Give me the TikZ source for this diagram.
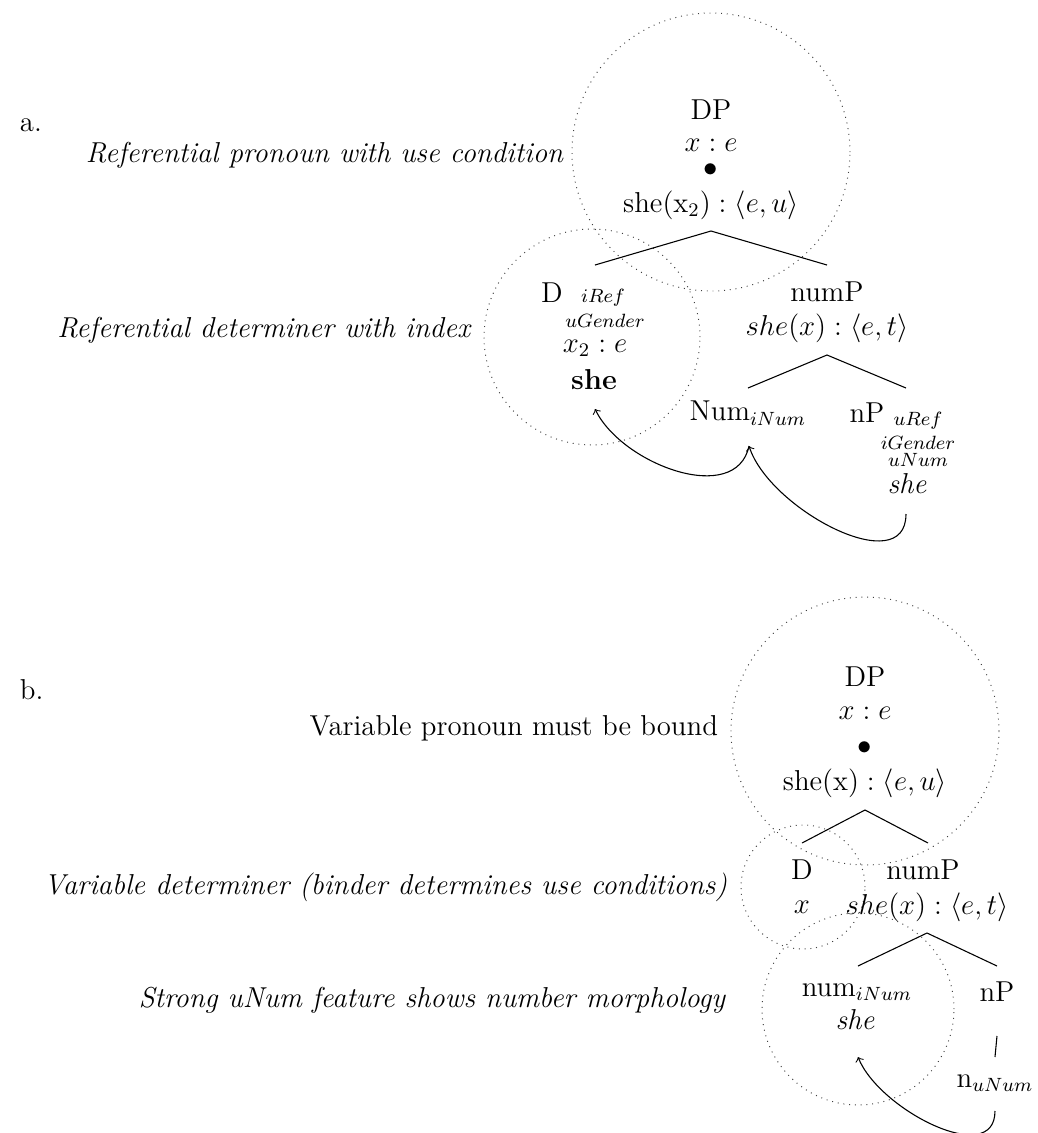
\documentclass[tikz,border=0pt]{standalone}
\usepackage{amsmath}
\usetikzlibrary{calc}
\begin{document}
\begin{tikzpicture}[x=0.41667pt,y=-0.41667pt,
  every node/.style={inner sep=0pt, outer sep=0pt, font=\large},
  lab/.style={anchor=east, font=\large\itshape},
  num/.style={anchor=west},
  zone/.style={draw=black!75, dotted, circle, line width=0.4pt, minimum size=#1*0.41667pt},
  branch/.style={line width=0.45pt},
  link/.style={->, line width=0.45pt}]
\useasboundingbox (0,0) rectangle (1038,1133);

% ---------- (a) referential pronoun ----------
\node[num] (ia) at (20,125) {a.};

\node[zone=278] (zDPa) at (711,152) {};
\node[zone=216] (zDa)  at (592,337) {};

\node[lab] (la1) at (563,155) {Referential pronoun with use condition};
\node[lab] (la2) at (470,330) {Referential determiner with index};

\node (DPa)   at (711,110) {DP};
\node (DPa2)  at (711,145) {$x:e$};
\node (DPa3)  at (711,170) {$\bullet$};
\node (DPa4)  at (711,205) {$\mathrm{she}(\mathrm{x}_2):\langle e,u\rangle$};

\node (Da)    at (552,293) {D};
\node (Da1)   at (603,298) {$\scriptstyle iRef$};
\node (Da2)   at (605,321) {$\scriptstyle uGender$};
\node (Da3)   at (595,348) {$x_2:e$};
\node (Da4)   at (594,380) {\textbf{she}};

\node (NPa)   at (827,292) {numP};
\node (NPa2)  at (827,328) {$she(x):\langle e,t\rangle$};

\node (Numa)  at (748,413) {Num$_{iNum}$};
\node (nPa)   at (867,413) {nP};
\node (nPa1)  at (918,421) {$\scriptstyle uRef$};
\node (nPa2)  at (918,443) {$\scriptstyle iGender$};
\node (nPa3)  at (918,460) {$\scriptstyle uNum$};
\node (nPa4)  at (907,484) {\itshape she};

\coordinate (apA) at (711,231);
\coordinate (lfA) at (595,265);
\coordinate (rtA) at (827,265);
\draw[branch] (lfA) -- (apA) -- (rtA);

\coordinate (apB) at (827,355);
\coordinate (lfB) at (748,388);
\coordinate (rtB) at (906,388);
\draw[branch] (lfB) -- (apB) -- (rtB);

\coordinate (tNa) at (749,446);
\coordinate (tDa) at (595,409);
\coordinate (tsa) at (906,514);
\draw[link] (tNa) to[out=-102,in=-64] (tDa);
\draw[link] (tsa) to[out=-90,in=-72] (tNa);

% ---------- (b) bound variable pronoun ----------
\node[num] (ib) at (20,690) {b.};

\node[zone=268] (zDPb) at (865,731) {};
\node[zone=124] (zDb)  at (803,887) {};
\node[zone=192] (zNb)  at (858,1009) {};

\node[lab, font=\large] (lb1) at (718,728) {Variable pronoun must be bound};
\node[lab] (lb2) at (727,887) {Variable determiner (binder determines use conditions)};
\node[lab] (lb3) at (725,1000) {Strong uNum feature shows number morphology};

\node (DPb)   at (865,677) {DP};
\node (DPb2)  at (865,713) {$x:e$};
\node (DPb3)  at (865,748) {$\bullet$};
\node (DPb4)  at (865,783) {$\mathrm{she}(\mathrm{x}):\langle e,u\rangle$};

\node (Db)    at (802,870) {D};
\node (Db2)   at (802,907) {$x$};
\node (NPb)   at (923,870) {numP};
\node (NPb2)  at (927,907) {$she(x):\langle e,t\rangle$};

\node (Numb)  at (857,992) {num$_{iNum}$};
\node (Numb2) at (855,1020) {\itshape she};
\node (nPb)   at (997,992) {nP};
\node (nb)    at (995,1083) {n$_{uNum}$};

\coordinate (apC) at (865,810);
\coordinate (lfC) at (802,843);
\coordinate (rtC) at (928,843);
\draw[branch] (lfC) -- (apC) -- (rtC);

\coordinate (apD) at (927,933);
\coordinate (lfD) at (858,966);
\coordinate (rtD) at (997,966);
\draw[branch] (lfD) -- (apD) -- (rtD);

\draw[branch] ($(nPb)+(0,44)$) coordinate (vt) -- ($(nb)+(0,-26)$) coordinate (vb);

\coordinate (tnb) at (995,1111);
\coordinate (tNb) at (858,1057);
\draw[link] (tnb) to[out=-90,in=-68] (tNb);
\end{tikzpicture}
\end{document}
